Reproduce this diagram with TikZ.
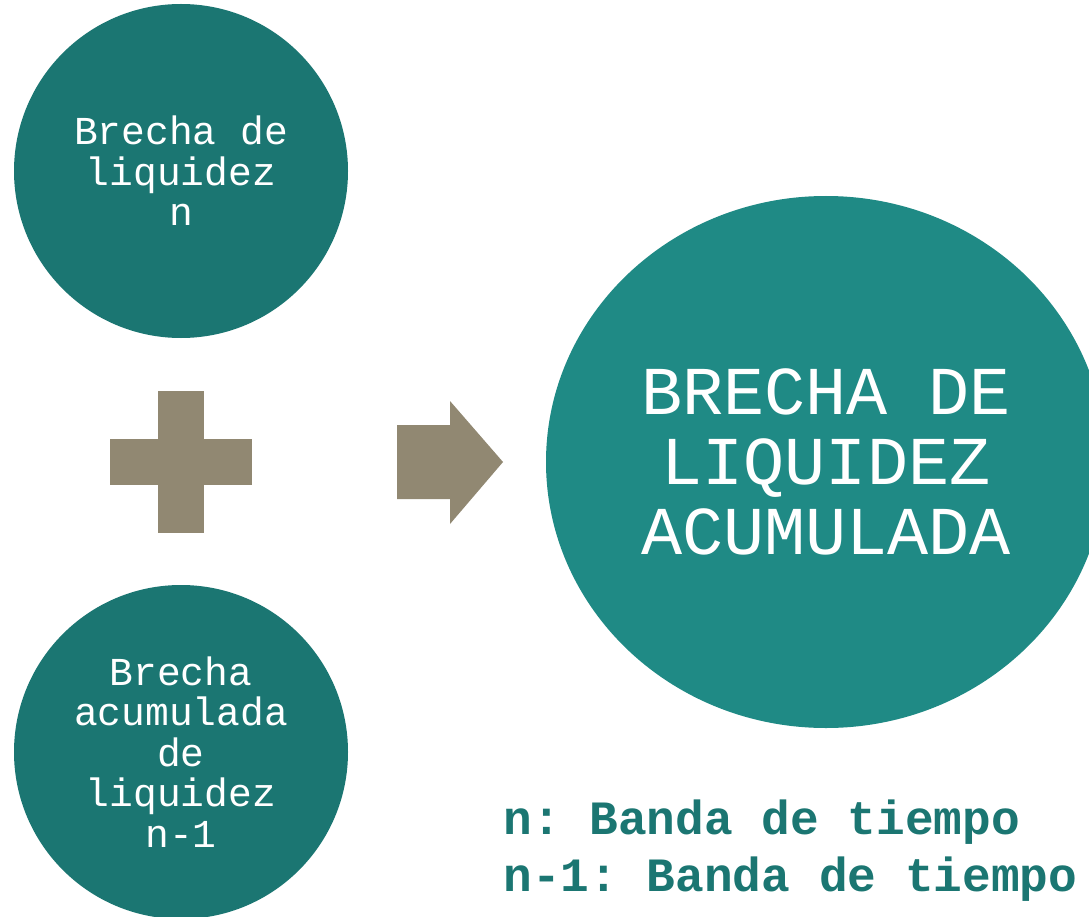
\documentclass[tikz,border=0pt]{standalone}
\usepackage{fontspec}
\setmonofont{Liberation Mono}
\usetikzlibrary{shapes.geometric, positioning, calc}
\definecolor{tealo}{HTML}{1B7672}
\definecolor{tealc}{HTML}{1F8A85}
\definecolor{taupe}{HTML}{918872}

\begin{document}
\begin{tikzpicture}[x=1pt, y=-1pt,
                    bubble/.style={circle, fill=tealo, text=white, minimum size=334pt,
                                   inner sep=0pt, align=center,
                                   font=\ttfamily\fontsize{39.6}{40.5}\selectfont},
                    bigbubble/.style={ellipse, fill=tealc, text=white, minimum width=560pt,
                                      minimum height=532pt, inner sep=0pt, align=center,
                                      font=\ttfamily\fontsize{68.5}{70}\selectfont},
                    mark shape/.style={fill=taupe, draw=none}
                ]
                \clip (0,0) rectangle (1089,917);
                \fill[white] (0,0) rectangle (1089,917);

                % the two small circles
                \node[bubble] (gap) at (181,171) {Brecha de\\liquidez\\n};
                \node[bubble] (prev) at (181,752) {Brecha\\acumulada\\de\\liquidez\\n-1};

                % plus sign between them
                \coordinate (plus) at (181,462);
                \fill[mark shape] ($(plus)+(-23,-71)$) rectangle ($(plus)+(23,71)$);
                \fill[mark shape] ($(plus)+(-71,-23)$) rectangle ($(plus)+(71,23)$);

                % block arrow
                \coordinate (tip) at (503,462);
                \fill[mark shape] (397,425) -- (450,425) -- (450,401) -- (tip)
                                  -- (450,524) -- (450,499) -- (397,499) -- cycle;

                % result
                \node[bigbubble] (total) at (826,462) {BRECHA DE\\LIQUIDEZ\\ACUMULADA};

                \node[anchor=west, align=left, text=tealo,
                      font=\ttfamily\bfseries\fontsize{47.8}{57}\selectfont] (legend) at (500,851)
                      {n: Banda de tiempo\\n-1: Banda de tiempo};
            \end{tikzpicture}
\end{document}
